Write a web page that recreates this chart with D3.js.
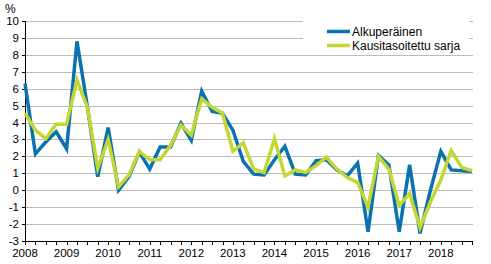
<!DOCTYPE html>
<html>
<head>
<meta charset="utf-8">
<script src="https://cdn.jsdelivr.net/npm/d3@7"></script>
<style>
  body { margin: 0; background: #fff; }
  svg { display: block; font-family: "Liberation Sans", Arial, sans-serif; }
</style>
</head>
<body>
<div id="chart"></div>
<script>
// ============================================================================
// DATA — quarterly, 2008Q1 .. 2018Q4
// ============================================================================

const years = d3.range(2008, 2019);

const alkuperainen = [
    6.3, 2.15, 2.85, 3.45, 2.45, 8.8, 4.95, 0.8, 3.7, 0.0, 0.8,
    2.25, 1.25, 2.55, 2.55, 3.95, 2.95, 5.85, 4.65, 4.55, 3.55, 1.7,
    0.95, 0.9, 1.8, 2.6, 0.95, 0.9, 1.75, 1.8, 1.2, 0.85, 1.6,
    -2.45, 2.05, 1.5, -2.45, 1.5, -2.55, 0.0, 2.3, 1.2, 1.15, 1.1
];

const kausitasoitettu = [
    4.55, 3.55, 3.05, 3.9, 3.9, 6.5, 4.9, 1.3, 3.0, 0.2, 0.9,
    2.3, 1.8, 1.8, 2.65, 3.85, 3.25, 5.4, 4.9, 4.55, 2.3, 2.8,
    1.25, 1.05, 3.05, 0.85, 1.2, 1.05, 1.45, 1.95, 1.25, 0.75, 0.45,
    -1.0, 2.0, 1.25, -0.9, -0.2, -2.2, -0.7, 0.6, 2.35, 1.35, 1.15
];

const yTicks = d3.range(-3, 11);

const series = [
    { name: "Alkuperäinen",          values: alkuperainen,    color: "#0a72ae" },
    { name: "Kausitasoitettu sarja", values: kausitasoitettu, color: "#c3d631" }
];


// ============================================================================
// SETUP
// ============================================================================

const W = 491, H = 264;
const margin = { top: 21, right: 19, bottom: 23, left: 25 };
const width  = W - margin.left - margin.right;
const height = H - margin.top  - margin.bottom;

const svg = d3.select("#chart")
    .append("svg")
    .attr("width", W)
    .attr("height", H);

const g = svg.append("g")
    .attr("transform", `translate(${margin.left},${margin.top})`);

const x = d3.scaleLinear()
    .domain([0, alkuperainen.length - 1])
    .range([0, width]);

const y = d3.scaleLinear()
    .domain([-3, 10])
    .range([height, 0]);


// ============================================================================
// GRID + AXES
// ============================================================================

g.selectAll("line.grid")
    .data(yTicks.filter(d => d > -3))
    .join("line")
    .attr("class", "grid")
    .attr("x1", 0).attr("x2", width + 1)
    .attr("y1", d => Math.round(y(d)) + 0.5)
    .attr("y2", d => Math.round(y(d)) + 0.5)
    .attr("stroke", "#bdbdbd")
    .attr("stroke-width", 1);

// y axis
g.append("line")
    .attr("x1", 0.5).attr("x2", 0.5)
    .attr("y1", 0).attr("y2", height)
    .attr("stroke", "#000");

g.selectAll("line.ytick")
    .data(yTicks)
    .join("line")
    .attr("class", "ytick")
    .attr("x1", -3).attr("x2", 0)
    .attr("y1", d => Math.round(y(d)) + 0.5)
    .attr("y2", d => Math.round(y(d)) + 0.5)
    .attr("stroke", "#000");

g.selectAll("text.ylab")
    .data(yTicks)
    .join("text")
    .attr("class", "ylab")
    .attr("x", -6)
    .attr("y", d => y(d) + 4)
    .attr("text-anchor", "end")
    .style("font-size", "11.5px")
    .attr("fill", "#000")
    .text(d => d);

svg.append("text")
    .attr("x", 5)
    .attr("y", 13)
    .style("font-size", "12px")
    .text("%");

// x axis
g.append("line")
    .attr("x1", 0).attr("x2", width + 1)
    .attr("y1", height + 0.5).attr("y2", height + 0.5)
    .attr("stroke", "#000");

g.selectAll("line.xtick")
    .data(d3.range(alkuperainen.length))
    .join("line")
    .attr("class", "xtick")
    .attr("x1", d => Math.round(x(d)) + 0.5)
    .attr("x2", d => Math.round(x(d)) + 0.5)
    .attr("y1", height).attr("y2", height + 4)
    .attr("stroke", "#000");

g.selectAll("text.xlab")
    .data(years)
    .join("text")
    .attr("class", "xlab")
    .attr("x", (d, i) => x(i * 4))
    .attr("y", height + 16)
    .attr("text-anchor", "middle")
    .style("font-size", "11.5px")
    .attr("fill", "#000")
    .text(d => d);


// ============================================================================
// LINES
// ============================================================================

const line = d3.line()
    .x((d, i) => x(i))
    .y(d => y(d));

g.selectAll("path.series")
    .data(series)
    .join("path")
    .attr("class", "series")
    .attr("d", d => line(d.values))
    .attr("fill", "none")
    .attr("stroke", d => d.color)
    .attr("stroke-width", 3.5)
    .attr("stroke-linejoin", "miter");


// ============================================================================
// LEGEND
// ============================================================================

const legend = svg.append("g")
    .attr("transform", "translate(303,14)");

legend.append("rect")
    .attr("x", 0).attr("y", 0)
    .attr("width", 166).attr("height", 38)
    .attr("fill", "#fff");

const item = legend.selectAll("g.item")
    .data(series)
    .join("g")
    .attr("class", "item")
    .attr("transform", (d, i) => `translate(24,${17.5 + i * 14})`);

item.append("line")
    .attr("x1", 0).attr("x2", 23)
    .attr("y1", 0).attr("y2", 0)
    .attr("stroke", d => d.color)
    .attr("stroke-width", 3.5);

item.append("text")
    .attr("x", 25)
    .attr("y", 4.5)
    .style("font-size", "12px")
    .attr("fill", "#000")
    .text(d => d.name);
</script>
</body>
</html>
